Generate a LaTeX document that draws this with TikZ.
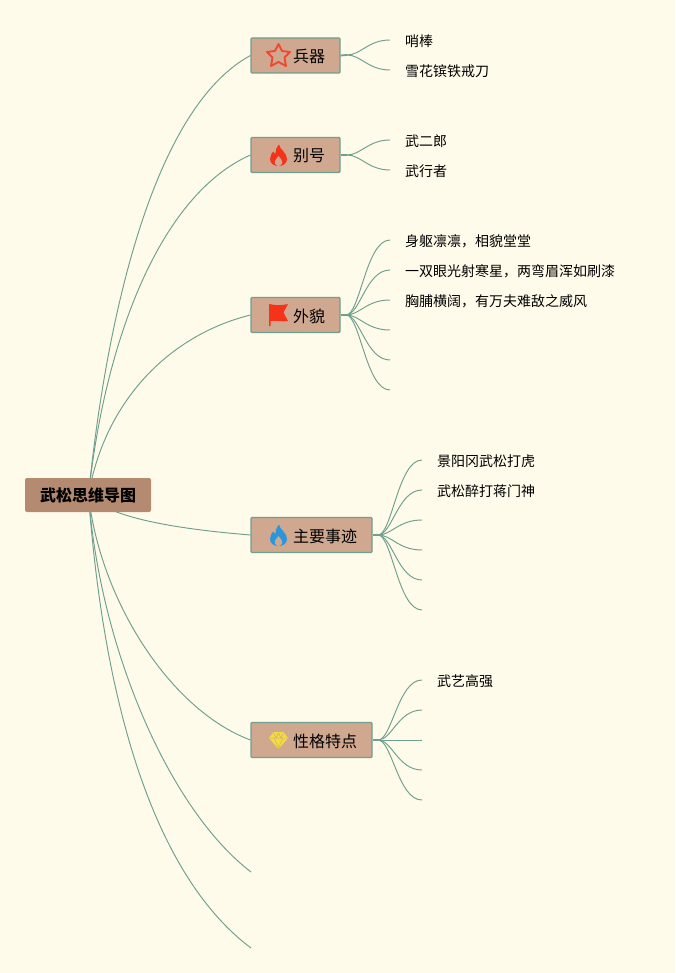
\documentclass[tikz,border=0pt]{standalone}
\usepackage{fontspec}
\setmainfont{Noto Sans CJK SC}
\usetikzlibrary{backgrounds}
\definecolor{pagebg}{HTML}{FFFBEA}
\definecolor{linec}{HTML}{6F9F8E}
\definecolor{boxfill}{HTML}{D0A88F}
\definecolor{rootfill}{HTML}{B48B71}
\definecolor{iconred}{HTML}{F5321A}
\definecolor{iconstar}{HTML}{EC4A30}
\definecolor{iconblue}{HTML}{2A96DE}
\definecolor{iconyellow}{HTML}{F2DE36}
\tikzset{
  x=1pt,y=-1pt,
  rootbox/.style={rectangle,rounded corners=2pt,fill=rootfill,minimum width=126pt,minimum height=34pt,inner sep=0pt,font=\fontsize{16}{18}\selectfont\bfseries,text=black},
  topicbox/.style={rectangle,rounded corners=1pt,fill=boxfill,draw=linec,line width=1.1pt,minimum height=35pt,inner sep=0pt},
  topiclab/.style={anchor=west,inner sep=0pt,font=\fontsize{16}{18}\selectfont,text=black},
  leaflab/.style={anchor=west,inner sep=0pt,font=\fontsize{14}{16}\selectfont,text=black},
  conn/.style={draw=linec,line width=0.95pt},
  stem/.style={draw=linec,line width=1.8pt},
  flameicon/.pic={
    \fill[pic actions] (0.5,-11) .. controls (1,-6) and (8.5,-3) .. (8.5,3.5)
      .. controls (8.5,8) and (4.5,10.5) .. (0,10.5)
      .. controls (-4.5,10.5) and (-8.5,8) .. (-8.5,3.5)
      .. controls (-8.5,0) and (-6.5,-2) .. (-5.5,-4)
      .. controls (-4.5,-2.5) and (-4,-2) .. (-3.2,-1.5)
      .. controls (-3.2,-5) and (-2,-8) .. (0.5,-11) -- cycle;
    \fill[boxfill] (0,0.5) .. controls (2,3) and (4.5,5.5) .. (3.6,8)
      .. controls (3,9.8) and (1,10.5) .. (0,10.5)
      .. controls (-1,10.5) and (-3,9.8) .. (-3.6,8)
      .. controls (-4.5,5.5) and (-2,3) .. (0,0.5) -- cycle;
  }
}
\begin{document}
\begin{tikzpicture}
\useasboundingbox (0,0) rectangle (675,973);
% nodes
\node[rootbox] (root) at (88,495) {武松思维导图};
\coordinate (hub) at (88.5,495);

\node[topicbox,minimum width=89pt] (t1) at (295.5,55.5) {};
\node[topiclab] (t1l) at (293,56) {兵器};
\node[topicbox,minimum width=89pt] (t2) at (295.5,155) {};
\node[topiclab] (t2l) at (293,156) {别号};
\node[topicbox,minimum width=89pt] (t3) at (295.5,315) {};
\node[topiclab] (t3l) at (293,316) {外貌};
\node[topicbox,minimum width=121pt] (t4) at (311.5,535) {};
\node[topiclab] (t4l) at (293,536) {主要事迹};
\node[topicbox,minimum width=121pt] (t5) at (311.5,740) {};
\node[topiclab] (t5l) at (293,741) {性格特点};

\coordinate (free1) at (251,872);
\coordinate (free2) at (251,948);

\coordinate (j1) at (347,55);
\coordinate (j2) at (347,155);
\coordinate (j3) at (346,315);
\coordinate (j4) at (378,535);
\coordinate (j5) at (378,740);

\coordinate (a1) at (390,40);
\coordinate (a2) at (390,70);
\node[leaflab] (a1l) at (405,41.5) {哨棒};
\node[leaflab] (a2l) at (405,71.5) {雪花镔铁戒刀};

\coordinate (b1) at (390,140);
\coordinate (b2) at (390,170);
\node[leaflab] (b1l) at (405,141.5) {武二郎};
\node[leaflab] (b2l) at (405,171.5) {武行者};

\coordinate (c1) at (390,240);
\coordinate (c2) at (390,270);
\coordinate (c3) at (390,300);
\coordinate (c4) at (390,330);
\coordinate (c5) at (390,360);
\coordinate (c6) at (390,390);
\node[leaflab] (c1l) at (405,241.5) {身躯凛凛，相貌堂堂};
\node[leaflab] (c2l) at (405,271.5) {一双眼光射寒星，两弯眉浑如刷漆};
\node[leaflab] (c3l) at (405,301.5) {胸脯横阔，有万夫难敌之威风};

\coordinate (d1) at (422,460);
\coordinate (d2) at (422,490);
\coordinate (d3) at (422,520);
\coordinate (d4) at (422,550);
\coordinate (d5) at (422,580);
\coordinate (d6) at (422,610);
\node[leaflab] (d1l) at (437,461.5) {景阳冈武松打虎};
\node[leaflab] (d2l) at (437,491.5) {武松醉打蒋门神};

\coordinate (e1) at (422,680);
\coordinate (e2) at (422,710);
\coordinate (e3) at (422,740);
\coordinate (e4) at (422,770);
\coordinate (e5) at (422,800);
\node[leaflab] (e1l) at (437,681.5) {武艺高强};

% icons
\draw[iconstar,line width=1.9pt,line join=round]
  (278.5,44) -- (282,51) -- (290,52) -- (284.5,57.5) -- (286,66) -- (278.5,62)
  -- (271,66) -- (272.5,57.5) -- (267,52) -- (275,51) -- cycle;
\pic[iconred] at (278.5,155.5) {flameicon};
\fill[iconred] (269,304) .. controls (274,305) and (280,306) .. (288,304) -- (283.5,312.5) -- (288,321) .. controls (280,322) and (275,320) .. (270.5,321) -- (270.5,326) -- (269,326) -- cycle;
\pic[iconblue] at (278.5,535.5) {flameicon};
\fill[iconyellow] (273.5,732) -- (283.5,732) -- (288,738) -- (278.5,749) -- (269,738) -- cycle;
\draw[boxfill,line width=0.5pt] (269.5,738) -- (287.5,738) (274,738) -- (278.5,748) -- (283,738) (273.5,732.5) -- (276,738) -- (278.5,733) -- (281,738) -- (283.5,732.5);

% connectors
\begin{pgfonlayer}{background}
\fill[pagebg] (0,0) rectangle (675,973);
\draw[conn] (hub) .. controls (105,330) and (150,110) .. (t1.west);
\draw[conn] (hub) .. controls (105,340) and (160,195) .. (t2.west);
\draw[conn] (hub) .. controls (105,400) and (170,335) .. (t3.west);
\draw[conn] (hub) .. controls (110,520) and (190,530) .. (t4.west);
\draw[conn] (hub) .. controls (100,600) and (170,710) .. (t5.west);
\draw[conn] (hub) .. controls (100,650) and (170,810) .. (free1);
\draw[conn] (hub) .. controls (105,720) and (160,880) .. (free2);

\draw[stem] (t1.east) -- (j1);
\draw[stem] (t2.east) -- (j2);
\draw[stem] (t3.east) -- (j3);
\draw[stem] (t4.east) -- (j4);
\draw[stem] (t5.east) -- (j5);

\draw[conn] (j1) .. controls +(14,0) and +(-22,0) .. (a1);
\draw[conn] (j1) .. controls +(14,0) and +(-22,0) .. (a2);
\draw[conn] (j2) .. controls +(14,0) and +(-22,0) .. (b1);
\draw[conn] (j2) .. controls +(14,0) and +(-22,0) .. (b2);
\draw[conn] (j3) .. controls +(14,0) and +(-24,0) .. (c1);
\draw[conn] (j3) .. controls +(14,0) and +(-24,0) .. (c2);
\draw[conn] (j3) .. controls +(14,0) and +(-24,0) .. (c3);
\draw[conn] (j3) .. controls +(14,0) and +(-24,0) .. (c4);
\draw[conn] (j3) .. controls +(14,0) and +(-24,0) .. (c5);
\draw[conn] (j3) .. controls +(14,0) and +(-24,0) .. (c6);
\draw[conn] (j4) .. controls +(14,0) and +(-24,0) .. (d1);
\draw[conn] (j4) .. controls +(14,0) and +(-24,0) .. (d2);
\draw[conn] (j4) .. controls +(14,0) and +(-24,0) .. (d3);
\draw[conn] (j4) .. controls +(14,0) and +(-24,0) .. (d4);
\draw[conn] (j4) .. controls +(14,0) and +(-24,0) .. (d5);
\draw[conn] (j4) .. controls +(14,0) and +(-24,0) .. (d6);
\draw[conn] (j5) .. controls +(14,0) and +(-24,0) .. (e1);
\draw[conn] (j5) .. controls +(14,0) and +(-24,0) .. (e2);
\draw[conn] (j5) -- (e3);
\draw[conn] (j5) .. controls +(14,0) and +(-24,0) .. (e4);
\draw[conn] (j5) .. controls +(14,0) and +(-24,0) .. (e5);
\end{pgfonlayer}
\end{tikzpicture}
\end{document}
